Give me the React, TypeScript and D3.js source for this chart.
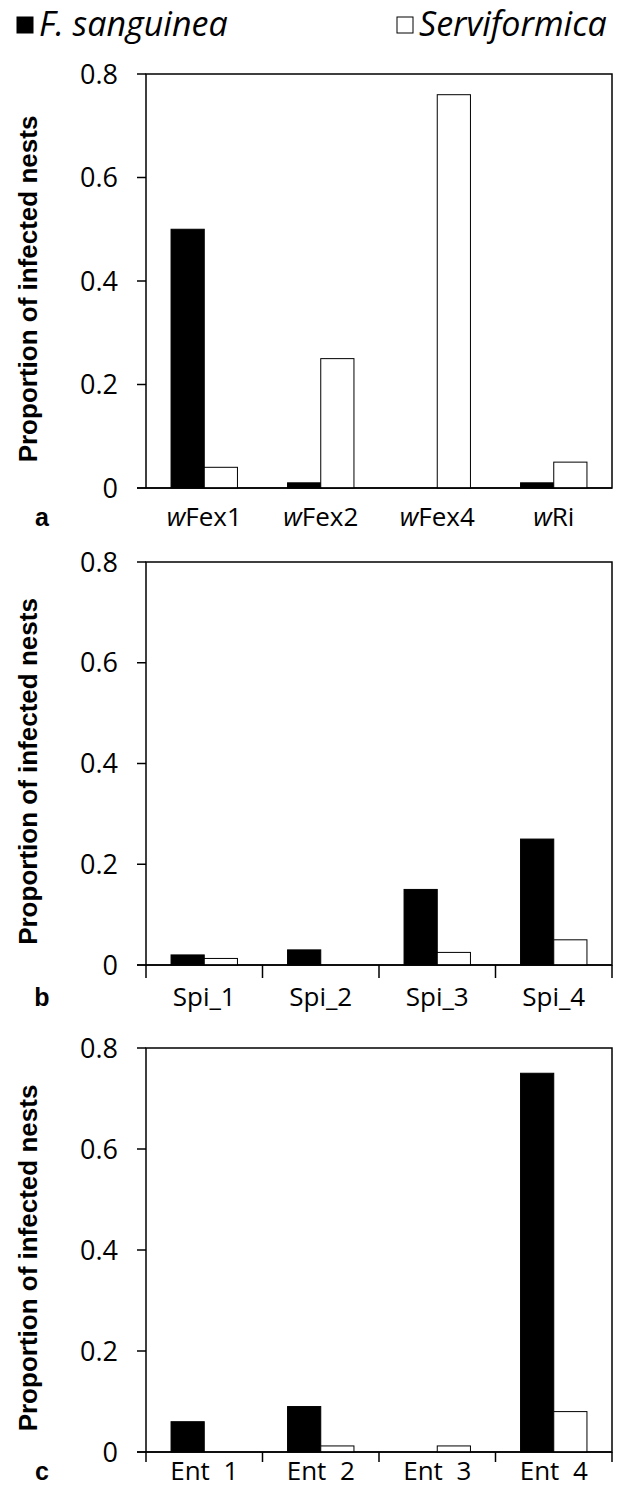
import React, { useEffect, useRef } from "react";
import * as d3 from "d3";

// series names
const seriesNames = ["F. sanguinea", "Serviformica"];

// panel a: Wolbachia strains
const catsA = ["wFex1", "wFex2", "wFex4", "wRi"];
const sangA = [0.5, 0.01, 0, 0.01];
const servA = [0.04, 0.25, 0.76, 0.05];

// panel b: Spiroplasma
const catsB = ["Spi_1", "Spi_2", "Spi_3", "Spi_4"];
const sangB = [0.02, 0.03, 0.15, 0.25];
const servB = [0.013, 0, 0.025, 0.05];

// panel c: Entomoplasmatales
const catsC = ["Ent  1", "Ent  2", "Ent  3", "Ent  4"];
const sangC = [0.06, 0.09, 0, 0.75];
const servC = [0, 0.012, 0.012, 0.08];

const yTicks = [0, 0.2, 0.4, 0.6, 0.8];

const W = 623;
const H = 1488;
const left = 146;
const right = 612;
const txtFont = "'Open Sans', Lato, sans-serif";
const boldFont = "'Liberation Sans', Arial, sans-serif";

const App = () => {
  const svgRef = useRef(null);

  useEffect(() => {
    const svg = d3.select(svgRef.current);
    svg.selectAll("*").remove();

    // legend
    const legend = [
      { x: 17, fill: "#000", label: seriesNames[0] },
      { x: 397, fill: "#fff", label: seriesNames[1] },
    ];
    legend.forEach((l) => {
      svg
        .append("rect")
        .attr("x", l.x)
        .attr("y", 17)
        .attr("width", 16)
        .attr("height", 16)
        .attr("fill", l.fill)
        .attr("stroke", "#000")
        .attr("stroke-width", 1);
      svg
        .append("text")
        .attr("x", l.x + 22)
        .attr("y", 36)
        .attr("font-family", txtFont)
        .attr("font-style", "italic")
        .attr("font-size", 34)
        .text(l.label);
    });

    const panels = [
      { letter: "a", cats: catsA, s1: sangA, s2: servA, top: 74, bottom: 488, ticks: false, tickLen: 0, lab: 38, italicW: true },
      { letter: "b", cats: catsB, s1: sangB, s2: servB, top: 562, bottom: 965, ticks: true, tickLen: 13, lab: 41, italicW: false },
      { letter: "c", cats: catsC, s1: sangC, s2: servC, top: 1048, bottom: 1452, ticks: true, tickLen: 10, lab: 28, italicW: false },
    ];

    panels.forEach((p) => {
      const g = svg.append("g");
      const x = d3.scaleBand().domain(p.cats).range([left, right]).paddingInner(0).paddingOuter(0);
      const y = d3.scaleLinear().domain([0, 0.8]).range([p.bottom, p.top]);
      const barW = x.bandwidth() * 0.285;

      // frame
      g.append("rect")
        .attr("x", left)
        .attr("y", p.top)
        .attr("width", right - left)
        .attr("height", p.bottom - p.top)
        .attr("fill", "none")
        .attr("stroke", "#000")
        .attr("stroke-width", 1.5);

      // bars
      p.cats.forEach((c, i) => {
        const cx = (x(c) as number) + x.bandwidth() / 2;
        g.append("rect")
          .attr("x", cx - barW)
          .attr("y", y(p.s1[i]))
          .attr("width", barW)
          .attr("height", y(0) - y(p.s1[i]))
          .attr("fill", "#000")
          .attr("stroke", "#000")
          .attr("stroke-width", 1);
        if (p.s2[i] > 0) {
          g.append("rect")
            .attr("x", cx)
            .attr("y", y(p.s2[i]))
            .attr("width", barW)
            .attr("height", y(0) - y(p.s2[i]))
            .attr("fill", "#fff")
            .attr("stroke", "#000")
            .attr("stroke-width", 1);
        }
      });

      // y axis ticks
      yTicks.forEach((t) => {
        g.append("line")
          .attr("x1", left - 9)
          .attr("x2", left)
          .attr("y1", y(t))
          .attr("y2", y(t))
          .attr("stroke", "#000")
          .attr("stroke-width", 1.5);
        g.append("text")
          .attr("x", left - 28)
          .attr("y", y(t))
          .attr("dy", "0.36em")
          .attr("text-anchor", "end")
          .attr("font-family", txtFont)
          .attr("font-size", 27)
          .text(t === 0 ? "0" : d3.format(".1f")(t));
      });

      // x axis line redrawn over bars
      g.append("line")
        .attr("x1", left - 9)
        .attr("x2", right)
        .attr("y1", p.bottom)
        .attr("y2", p.bottom)
        .attr("stroke", "#000")
        .attr("stroke-width", 1.5);

      if (p.ticks) {
        [...p.cats.map((c) => x(c) as number), right].forEach((tx) => {
          g.append("line")
            .attr("x1", tx)
            .attr("x2", tx)
            .attr("y1", p.bottom)
            .attr("y2", p.bottom + p.tickLen)
            .attr("stroke", "#000")
            .attr("stroke-width", 1.5);
        });
      }

      // category labels
      p.cats.forEach((c) => {
        const t = g
          .append("text")
          .attr("x", (x(c) as number) + x.bandwidth() / 2)
          .attr("y", p.bottom + p.lab)
          .attr("text-anchor", "middle")
          .attr("font-family", txtFont)
          .attr("font-size", 26)
          .style("white-space", "pre");
        if (p.italicW) {
          t.append("tspan").attr("font-style", "italic").text(c.slice(0, 1));
          t.append("tspan").text(c.slice(1));
        } else {
          t.text(c);
        }
      });

      // panel letter
      g.append("text")
        .attr("x", 42)
        .attr("y", p.bottom + p.lab)
        .attr("text-anchor", "middle")
        .attr("font-family", boldFont)
        .attr("font-weight", "bold")
        .attr("font-size", 25)
        .text(p.letter);

      // y axis title
      g.append("text")
        .attr("transform", `translate(37,${(p.top + p.bottom) / 2 + 8}) rotate(-90)`)
        .attr("text-anchor", "middle")
        .attr("font-family", boldFont)
        .attr("font-weight", "bold")
        .attr("font-size", 26)
        .text("Proportion of infected nests");
    });
  }, []);

  return (
    <svg
      ref={svgRef}
      width={W}
      height={H}
      style={{ position: "absolute", left: 0, top: 0, display: "block", background: "#fff" }}
    />
  );
};

export default App;
